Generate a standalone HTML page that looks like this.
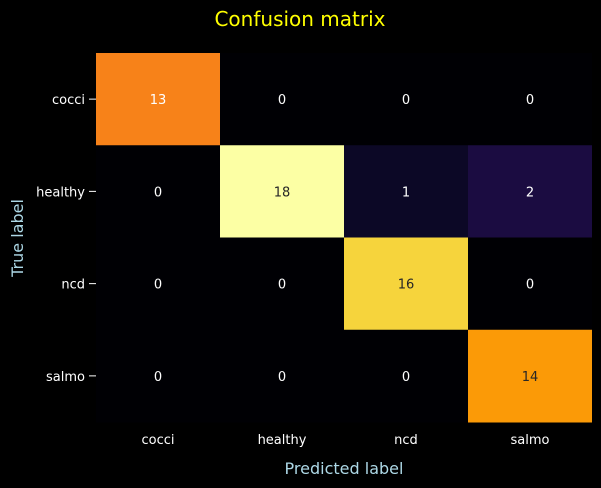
<!DOCTYPE html>
<html><head><meta charset="utf-8"><style>
body{margin:0;background:#000;}
svg{display:block;font-family:"DejaVu Sans","Liberation Sans",sans-serif;}
</style></head><body>
<svg id="c" width="601" height="488">
<rect width="601" height="488" fill="#000"/>
<text x="300" y="26" fill="#ffff00" font-size="20" text-anchor="middle">Confusion matrix</text>
<text x="344" y="474" fill="#add8e6" font-size="16" text-anchor="middle">Predicted label</text>
<text transform="translate(23,238) rotate(-90)" fill="#add8e6" font-size="16" text-anchor="middle">True label</text>
<g id="cells"></g>
</svg>
<script>
const labels=["cocci","healthy","ncd","salmo"];
const row0=[13,0,0,0];
const row1=[0,18,1,2];
const row2=[0,0,16,0];
const row3=[0,0,0,14];
const matrix=[row0,row1,row2,row3];
const x0=96,y0=53,cw=124,ch=92.25,vmax=18;
const stops=[[0,[0,0,4]],[0.055,[12,8,38]],[0.111,[27,12,65]],[0.2,[74,12,107]],[0.3,[120,28,109]],[0.4,[165,44,96]],[0.5,[207,68,70]],[0.6,[237,105,37]],[0.72,[247,129,26]],[0.78,[251,155,6]],[0.889,[246,212,60]],[1,[252,255,164]]];
function cmap(t){for(let i=1;i<stops.length;i++){if(t<=stops[i][0]){const a=stops[i-1],b=stops[i];const f=(t-a[0])/(b[0]-a[0]);return 'rgb('+a[1].map((v,k)=>Math.round(v+(b[1][k]-v)*f)).join(',')+')';}}return 'rgb(252,255,164)';}
const xs=i=>x0+i*cw, ys=j=>y0+j*ch;
const ns="http://www.w3.org/2000/svg";
const g=document.getElementById('cells'), svg=document.getElementById('c');
matrix.forEach((row,j)=>row.forEach((v,i)=>{
 const t=v/vmax;
 const r=document.createElementNS(ns,'rect');
 r.setAttribute('x',xs(i));r.setAttribute('y',ys(j));r.setAttribute('width',cw);r.setAttribute('height',ch+0.5);
 r.setAttribute('fill',cmap(t));
 
 
 g.appendChild(r);
 const tx=document.createElementNS(ns,'text');
 tx.setAttribute('x',xs(i)+cw/2);tx.setAttribute('y',ys(j)+ch/2+5);
 tx.setAttribute('text-anchor','middle');tx.setAttribute('font-size','13');
 tx.setAttribute('fill',t>0.75?'#262626':'#ffffff');
 tx.textContent=v;
 
 
 g.appendChild(tx);
}));
labels.forEach((l,k)=>{
 const yt=document.createElementNS(ns,'text');
 yt.setAttribute('x',85);yt.setAttribute('y',ys(k)+ch/2+5);yt.setAttribute('text-anchor','end');
 yt.setAttribute('fill','#fff');yt.setAttribute('font-size','13');yt.textContent=l;
 
 
 svg.appendChild(yt);
 const yl=document.createElementNS(ns,'line');
 yl.setAttribute('x1',89);yl.setAttribute('x2',96);yl.setAttribute('y1',ys(k)+ch/2);yl.setAttribute('y2',ys(k)+ch/2);yl.setAttribute('stroke','#fff');
 
 
 svg.appendChild(yl);
 const xt=document.createElementNS(ns,'text');
 xt.setAttribute('x',xs(k)+cw/2);xt.setAttribute('y',444);xt.setAttribute('text-anchor','middle');
 xt.setAttribute('fill','#fff');xt.setAttribute('font-size','13');xt.textContent=l;
 
 
 svg.appendChild(xt);
});
</script>
</body></html>
